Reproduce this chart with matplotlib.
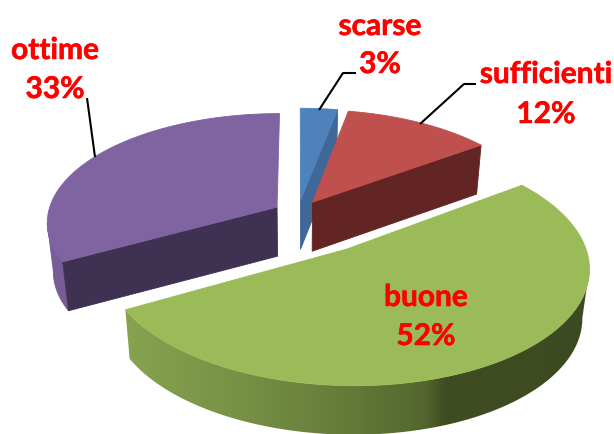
import numpy as np
import matplotlib
matplotlib.use("Agg")
import matplotlib.pyplot as plt
from matplotlib.patches import Polygon
import matplotlib.patheffects as pe

labels = ["scarse", "sufficienti", "buone", "ottime"]
values = [3, 12, 52, 33]
explode = [0.12, 0.12, 0.38, 0.107]

top_colors = ["#4F81BD", "#C0504D", "#9BBB59", "#8064A2"]
cut_colors = ["#3F6797", "#632523", "#4F6228", "#3F3151"]

# label text position, center x and baselines in pixels
label_pos = [(380, 35, 73), (546, 83, 123), (426, 306, 345), (55, 59, 98)]
leaders = [
    [(319, 110), (343, 73), (356, 73)],
    [(420, 124), (464, 84), (476, 84)],
    [(95, 157), (87, 98)],
]

# green wall shading along x
wall_x = [125, 250, 350, 425, 445, 600]
wall_rgb = [(0.53, 0.64, 0.31), (0.46, 0.56, 0.27), (0.39, 0.48, 0.22),
            (0.33, 0.40, 0.18), (0.25, 0.30, 0.13), (0.24, 0.29, 0.13)]

x0, y0 = 298, 213
scale_x, scale_y = 229, 107.6
persp = 0.134
depth = 49
shrink = 0.025


def project(X, Y, Z=0):
    # Z=0 is the top of the pie, Z=-1 the bottom
    w = 1 + persp * np.asarray(Y, dtype=float)
    sx = x0 + scale_x * np.asarray(X) / (w * (1 - shrink * Z))
    sy = y0 - scale_y * np.asarray(Y) / w - depth * Z
    return sx, sy


def slice_geom(a0, a1, e):
    # angles clockwise from north, degrees
    mid = np.radians((a0 + a1) / 2)
    cx, cy = e * np.sin(mid), e * np.cos(mid)
    t = np.radians(np.linspace(a0, a1, 240))
    return cx, cy, cx + np.sin(t), cy + np.cos(t)


def pts(X, Y, Z=0):
    sx, sy = project(X, Y, Z)
    return np.column_stack([sx, sy])


def draw_quad(ax, xy, color, z):
    ax.add_patch(Polygon(xy, closed=True, fc=color, ec=color, lw=0.6, zorder=z))


def draw_slice(ax, a0, a1, e, i):
    cx, cy, arc_x, arc_y = slice_geom(a0, a1, e)
    base = 10 + {3: 0, 0: 10, 1: 20, 2: 30}[i]
    top = pts(arc_x, arc_y, 0)
    bot = pts(arc_x, arc_y, -1)
    if i == 2:
        # wall shaded along x, only from the right extreme on
        k = np.argmax(top[:, 0])
        wall = np.vstack([top[k:], bot[k:][::-1]])
        xs = np.linspace(wall_x[0], wall_x[-1], 256)
        grad = np.array([np.interp(xs, wall_x, [r[j] for r in wall_rgb]) for j in range(3)]).T
        clip = Polygon(wall, closed=True, transform=ax.transData, fc="none", ec="none")
        ax.add_patch(clip)
        im = ax.imshow(grad[np.newaxis, :, :], extent=(wall_x[0], wall_x[-1], 434, 150),
                       aspect="auto", zorder=base, interpolation="bilinear")
        im.set_clip_path(clip)
    elif i == 3:
        # wall up to the left extreme
        k = np.argmin(top[:, 0]) + 1
        draw_quad(ax, np.vstack([top[:k], bot[:k][::-1]]), "#775C97", base)
    # cut faces, only the ones turned to the viewer
    apex_t = pts(cx, cy, 0)[0]
    apex_b = pts(cx, cy, -1)[0]
    if i == 3:
        draw_quad(ax, [apex_t, top[0], bot[0], apex_b], cut_colors[i], base + 1)
    if i in (0, 1):
        draw_quad(ax, [apex_t, top[-1], bot[-1], apex_b], cut_colors[i], base + 1)
    # top face
    poly = np.vstack([apex_t, top])
    ax.add_patch(Polygon(poly, closed=True, fc=top_colors[i], ec=top_colors[i],
                         lw=0.6, zorder=base + 2))


fig = plt.figure(figsize=(6.14, 4.34), dpi=100)
ax = fig.add_axes([0, 0, 1, 1])

edges = np.cumsum([0] + values) / sum(values) * 360
for i in range(len(values)):
    draw_slice(ax, edges[i], edges[i + 1], explode[i], i)

ax.set_xlim(0, 614)
ax.set_ylim(434, 0)
ax.axis("off")

for line in leaders:
    xs, ys = zip(*line)
    ax.plot(xs, ys, color="black", lw=1.5, zorder=60, solid_capstyle="butt")

thick = [pe.withStroke(linewidth=0.4, foreground="#FF0000")]
for i, (xc, y1, y2) in enumerate(label_pos):
    for s, yb in ((labels[i], y1), ("%d%%" % values[i], y2)):
        ax.text(xc, yb, s, color="#FF0000", fontsize=21.5, fontweight="bold",
                family="Lato", ha="center", va="baseline", zorder=70, path_effects=thick)

fig.savefig("out.png", dpi=100)
